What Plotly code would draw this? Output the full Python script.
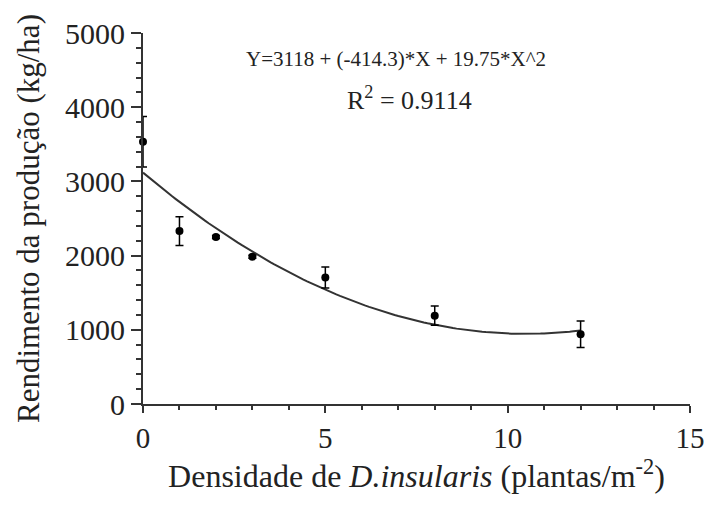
import plotly.graph_objects as go

density = [0, 1, 2, 3, 5, 8, 12]
yield_kg = [3535, 2330, 2250, 1985, 1705, 1190, 940]
err = [340, 195, 20, 20, 140, 130, 180]

# fitted regression coefficients shown on the chart
b0, b1, b2 = 3118, -414.3, 19.75
curve_x = [i * 0.1 for i in range(0, 121)]
curve_y = [b0 + b1 * x + b2 * x ** 2 for x in curve_x]

font = "Liberation Serif, Times New Roman, serif"
fig = go.Figure()
fig.add_trace(go.Scatter(x=curve_x, y=curve_y, mode="lines",
                         line=dict(color="#333333", width=2), showlegend=False, cliponaxis=False))
fig.add_trace(go.Scatter(x=density, y=yield_kg, mode="markers",
                         marker=dict(color="black", size=8),
                         error_y=dict(type="data", array=err, color="black", thickness=1.5, width=4),
                         showlegend=False, cliponaxis=False))

fig.update_layout(
    width=717, height=507, margin=dict(l=143, r=18, t=33, b=103),
    paper_bgcolor="white", plot_bgcolor="white",
    font=dict(family=font, size=28, color="#222222"),
    xaxis=dict(range=[0, 15], tickvals=[0, 5, 10, 15], showgrid=False, zeroline=False,
               showline=True, linecolor="#333333", linewidth=2,
               ticks="outside", ticklen=7, tickwidth=2, tickcolor="#333333",
               minor=dict(dtick=1, ticks="outside", ticklen=4, tickwidth=1.5, tickcolor="#333333"),
               tickfont=dict(size=29),
               title=dict(text="Densidade de <i>D.insularis</i> (plantas/m<sup>-2</sup>)",
                          font=dict(size=32), standoff=8)),
    yaxis=dict(range=[0, 5000], tickvals=[0, 1000, 2000, 3000, 4000, 5000], showgrid=False,
               zeroline=False, showline=True, linecolor="#333333", linewidth=2,
               ticks="outside", ticklen=10, tickwidth=2, tickcolor="#333333",
               minor=dict(dtick=200, ticks="outside", ticklen=5, tickwidth=1.5, tickcolor="#333333"),
               tickfont=dict(size=30),
               title=dict(text="Rendimento da produção (kg/ha)", font=dict(size=31), standoff=16)),
)
fig.add_annotation(x=6.95, y=4650, xref="x", yref="y", text="Y=3118 + (-414.3)*X + 19.75*X^2",
                   showarrow=False, font=dict(size=21))
fig.add_annotation(x=7.3, y=4120, xref="x", yref="y", text="R<sup>2</sup> = 0.9114",
                   showarrow=False, font=dict(size=26))
fig.write_html("out.html")
